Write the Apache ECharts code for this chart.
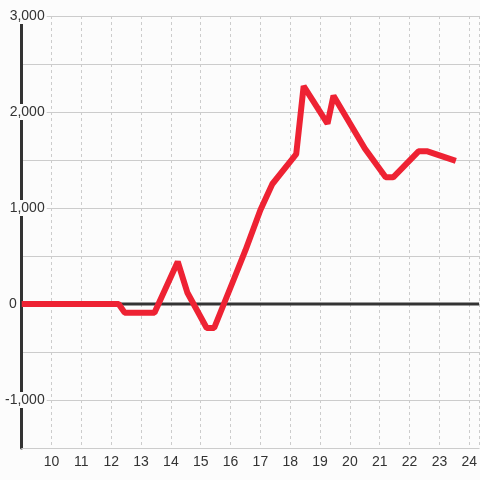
<!DOCTYPE html>
<html>
<head>
<meta charset="utf-8">
<script src="https://cdn.jsdelivr.net/npm/echarts@6/dist/echarts.min.js"></script>
<style>
  html, body { margin: 0; padding: 0; background: #fcfcfc; }
  #chart { width: 480px; height: 480px; }
</style>
</head>
<body>
<div id="chart"></div>
<script>
// data
var hours  = [9, 12.25, 12.45, 13.45, 14.23, 14.55, 15.2, 15.45, 16.1, 16.5, 17.0, 17.4, 18.2, 18.45, 19.25, 19.45, 20.5, 21.2, 21.45, 22.3, 22.6, 23.55];
var values = [0, 0, -90, -90, 440, 120, -250, -250, 250, 560, 980, 1250, 1560, 2270, 1880, 2170, 1620, 1320, 1320, 1590, 1590, 1490];
var xMin = 9, xMax = 24.33;
var yMin = -1500, yMax = 3000;
var zeroLine = [[xMin, 0], [xMax, 0]];

var bg = '#fcfcfc';
var pts = [];
for (var i = 0; i < hours.length; i++) {
	pts.push([hours[i], values[i]]);
}

var myChart = echarts.init(document.getElementById('chart'));
var option = {
	backgroundColor: bg,
	animation: false,
	grid: {
		left: 20,
		right: 0,
		top: 16,
		bottom: 32
	},
	xAxis: {
		type: 'value',
		min: xMin,
		max: xMax,
		interval: 1,
		axisLine: { onZero: false, lineStyle: { color: '#cccccc', width: 1 } },
		axisTick: { show: false },
		axisLabel: {
			margin: 7,
			fontSize: 14,
			color: '#333',
			fontFamily: 'Liberation Sans',
			showMinLabel: false,
			showMaxLabel: false
		},
		splitLine: { show: true, lineStyle: { color: '#cccccc', type: [3, 3], width: 1 } }
	},
	yAxis: {
		type: 'value',
		min: yMin,
		max: yMax,
		interval: 500,
		axisLine: { show: true, lineStyle: { color: '#333', width: 3 } },
		axisTick: { show: false },
		axisLabel: {
			align: 'right',
			margin: -25,
			fontFamily: 'Liberation Sans',
			formatter: function (v) {
				if (v % 1000 !== 0 || v === yMin) return '';
				if (v === 0) return '{z|0}';
				return '{b|' + v.toLocaleString('en-US') + '}';
			},
			rich: {
				b: { backgroundColor: bg, padding: [1, 2, 1, 2], fontSize: 14, color: '#333', fontFamily: 'Liberation Sans' },
				z: { padding: [0, 30, 0, 0], fontSize: 14, color: '#333', fontFamily: 'Liberation Sans' }
			}
		},
		splitLine: { show: true, lineStyle: { color: '#cccccc', width: 1 } }
	},
	series: [
		{
			name: 'zero',
			type: 'line',
			data: zeroLine,
			symbol: 'none',
			silent: true,
			z: 1,
			lineStyle: { color: '#333', width: 3 }
		},
		{
			name: 'value',
			type: 'line',
			data: pts,
			symbol: 'none',
			z: 3,
			lineStyle: { color: '#ee2233', width: 6, join: 'bevel' }
		}
	]
};
myChart.setOption(option);
</script>
</body>
</html>
